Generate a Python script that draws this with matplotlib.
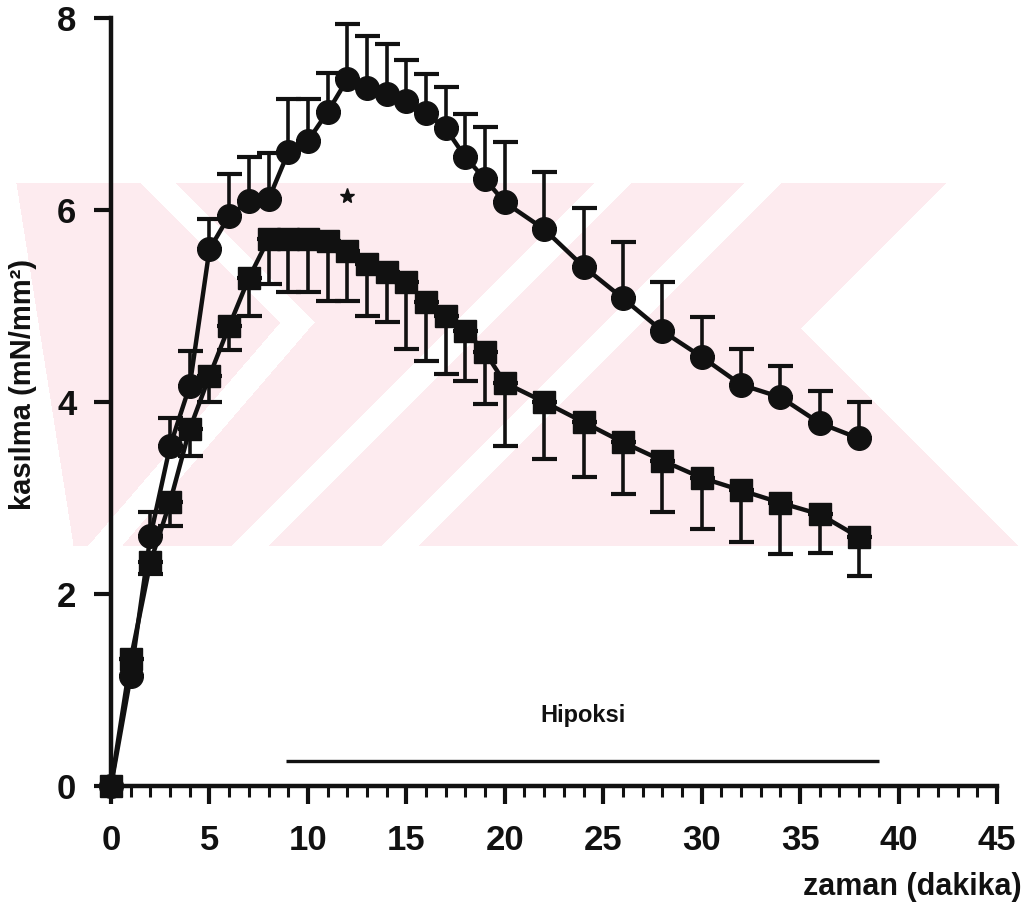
import matplotlib
matplotlib.use("Agg")
import matplotlib.pyplot as plt
import numpy as np
from matplotlib.ticker import MultipleLocator

plt.rcParams["font.family"] = ["Liberation Sans", "DejaVu Sans"]
plt.rcParams["font.weight"] = "bold"

INK = "#111111"
PINK = (253 / 255, 235 / 255, 239 / 255)

# time points (minutes)
time_min = [0, 1, 2, 3, 4, 5, 6, 7, 8, 9, 10, 11, 12, 13, 14, 15, 16, 17, 18, 19,
            20, 22, 24, 26, 28, 30, 32, 34, 36, 38]

# circles: mean and upper error
circle_mean = [0.0, 1.15, 2.60, 3.54, 4.17, 5.59, 5.94, 6.09, 6.11, 6.60, 6.72, 7.02,
               7.36, 7.27, 7.21, 7.14, 7.01, 6.85, 6.55, 6.32, 6.08, 5.80, 5.41, 5.08,
               4.74, 4.47, 4.18, 4.05, 3.78, 3.62]
circle_err = [0.0, 0.0, 0.25, 0.29, 0.36, 0.32, 0.43, 0.46, 0.48, 0.56, 0.44, 0.41,
              0.58, 0.54, 0.52, 0.42, 0.41, 0.43, 0.45, 0.54, 0.63, 0.60, 0.61, 0.59,
              0.51, 0.42, 0.37, 0.33, 0.33, 0.38]

# squares: mean and lower error
square_mean = [0.0, 1.32, 2.33, 2.96, 3.72, 4.27, 4.79, 5.29, 5.70, 5.70, 5.70, 5.68,
               5.57, 5.44, 5.35, 5.25, 5.04, 4.90, 4.74, 4.52, 4.20, 4.00, 3.79, 3.58,
               3.39, 3.21, 3.08, 2.95, 2.83, 2.59]
square_err = [0.0, 0.0, 0.12, 0.25, 0.28, 0.27, 0.25, 0.39, 0.47, 0.55, 0.55, 0.63,
              0.52, 0.54, 0.52, 0.70, 0.61, 0.61, 0.52, 0.54, 0.66, 0.59, 0.57, 0.54,
              0.54, 0.53, 0.54, 0.53, 0.40, 0.40]

# significance mark
star_x = [12]
star_y = [6.15]

# hypoxia period bar
hypoxia_span = [8.9, 39.0]
hypoxia_level = 0.26
hypoxia_label = "Hipoksi"

x_ticks = [0, 5, 10, 15, 20, 25, 30, 35, 40, 45]
y_ticks = [0, 2, 4, 6, 8]

W, H = 1029, 910


def strip(xx, yy, x_top, y_top, x_bot, y_bot, half):
    t = (yy - y_top) / float(y_bot - y_top)
    cx = x_top + (x_bot - x_top) * t
    return (np.abs(xx - cx) <= half) & (yy >= y_top) & (yy <= y_bot)


def watermark():
    # faint striped background band, built as a pixel mask
    yy, xx = np.mgrid[0:H, 0:W]
    s = yy - 183
    mask = (yy >= 183) & (yy <= 545) & (xx <= 1020)
    mask &= xx >= 16 + 57 * s / 362.0
    wedge = np.where(s <= 145, xx > 945 - s, xx > 800 + (s - 145))
    mask &= ~wedge
    mask &= ~strip(xx, yy, 158, 183, 297, 322, 17)
    mask &= ~strip(xx, yy, 297, 322, 105, 545, 17)
    mask &= ~strip(xx, yy, 612, 183, 250, 545, 18)
    mask &= ~strip(xx, yy, 762, 183, 400, 545, 18)
    img = np.ones((H, W, 4))
    img[mask, 0] = PINK[0]
    img[mask, 1] = PINK[1]
    img[mask, 2] = PINK[2]
    return img


fig = plt.figure(figsize=(W / 100, H / 100), dpi=100)
fig.figimage(watermark(), xo=0, yo=0, origin="upper", zorder=-1)

ax = fig.add_axes([111 / W, 124 / H, 886 / W, 768 / H])
ax.patch.set_alpha(0)

zeros = np.zeros(len(time_min))
ax.errorbar(time_min, circle_mean, yerr=[zeros, circle_err], fmt="none", ecolor=INK,
            elinewidth=2.6, capsize=9, capthick=3, zorder=2, clip_on=False)
ax.errorbar(time_min, square_mean, yerr=[square_err, zeros], fmt="none", ecolor=INK,
            elinewidth=2.6, capsize=9, capthick=3, zorder=2, clip_on=False)
ax.plot(time_min, square_mean, "-s", color=INK, lw=3.2, ms=16.5, zorder=3, clip_on=False)
ax.plot(time_min, circle_mean, "-o", color=INK, lw=3.2, ms=17, zorder=4, clip_on=False)
ax.plot(star_x, star_y, "*", color=INK, ms=11, zorder=4)

ax.hlines(hypoxia_level, hypoxia_span[0], hypoxia_span[1], color=INK, lw=2.4)
ax.text(np.mean(hypoxia_span), 0.73, hypoxia_label, ha="center", va="center",
        fontsize=17, color=INK)

ax.set_xlim(0, 45)
ax.set_ylim(0, 8)
ax.set_xticks(x_ticks)
ax.set_yticks(y_ticks)
ax.xaxis.set_minor_locator(MultipleLocator(1))
ax.yaxis.set_minor_locator(MultipleLocator(0.2))

for side in ("top", "right"):
    ax.spines[side].set_visible(False)
for side in ("left", "bottom"):
    ax.spines[side].set_linewidth(3.2)
    ax.spines[side].set_color(INK)

ax.tick_params(axis="x", which="major", direction="out", length=13, width=3,
               pad=14, labelsize=25, colors=INK)
ax.tick_params(axis="x", which="minor", direction="out", length=8, width=2.2, colors=INK)
ax.tick_params(axis="y", which="major", direction="out", length=12, width=3,
               pad=13, labelsize=25, colors=INK)
ax.tick_params(axis="y", which="minor", direction="inout", length=3, width=1.5, colors=INK)

fig.text(1022 / W, 1 - 887 / H, "zaman (dakika)", ha="right", va="center",
         fontsize=22, color=INK)
fig.text(23 / W, 1 - 384 / H, "kasılma (mN/mm²)", rotation=90, ha="center",
         va="center", fontsize=21, color=INK)

fig.savefig("out.png", dpi=100)
